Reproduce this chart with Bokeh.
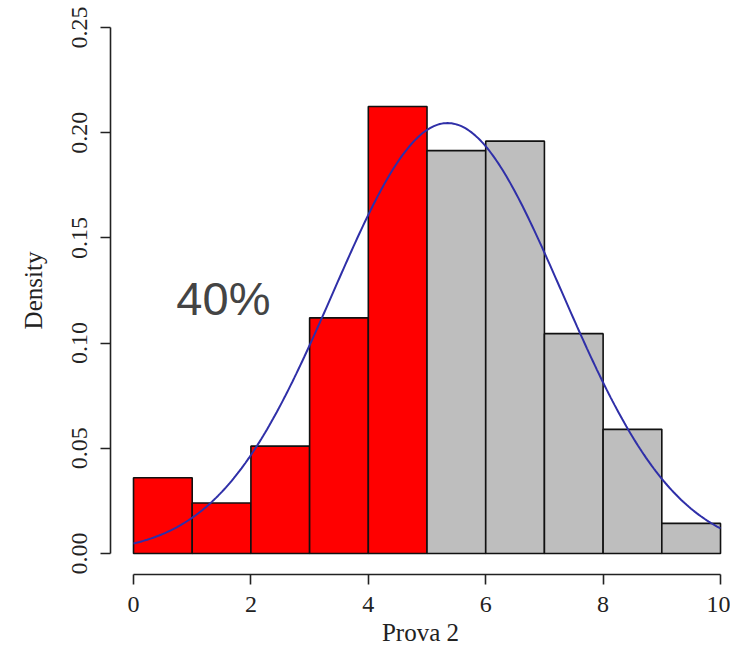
import numpy as np
from bokeh.plotting import figure
from bokeh.models import FixedTicker, Range1d
from bokeh.core.properties import value
from bokeh.embed import file_html
from bokeh.resources import INLINE

# ---- data ----
bin_left = [0, 1, 2, 3, 4, 5, 6, 7, 8, 9]
bin_right = [1, 2, 3, 4, 5, 6, 7, 8, 9, 10]
density = [0.036, 0.024, 0.051, 0.112, 0.2125, 0.1915, 0.196, 0.1045, 0.059, 0.0143]
bar_colors = ["#ff0000"] * 5 + ["#bebebe"] * 5

norm_mean = 5.35
norm_sd = 1.95

x_ticks = [0, 2, 4, 6, 8, 10]
x_tick_labels = ["0", "2", "4", "6", "8", "10"]
y_ticks = [0.0, 0.05, 0.10, 0.15, 0.20, 0.25]
y_tick_labels = ["0.00", "0.05", "0.10", "0.15", "0.20", "0.25"]

annot_x = [0.73]
annot_y = [0.121]
annot_text = ["40%"]

# ---- figure ----
p = figure(width=730, height=652, output_backend="svg", toolbar_location=None,
           x_range=Range1d(-0.392, 10.17), y_range=Range1d(-0.01, 0.26),
           min_border_left=110, min_border_right=0, min_border_top=6,
           min_border_bottom=78)
p.outline_line_color = None
p.grid.visible = False
p.background_fill_color = "white"
p.border_fill_color = "white"

p.quad(left=bin_left, right=bin_right, bottom=0, top=density,
       fill_color=bar_colors, line_color="#111111", line_width=1.6)

xs = np.linspace(min(bin_left), max(bin_right), 300)
ys = np.exp(-0.5 * ((xs - norm_mean) / norm_sd) ** 2) / (norm_sd * np.sqrt(2 * np.pi))
p.line(xs, ys, line_color="#2f2fa8", line_width=2)

p.text(x=annot_x, y=annot_y, text=annot_text, text_font=value("Liberation Sans"),
       text_font_size="47px", text_color="#444444", text_baseline="alphabetic",
       text_align="left")

serif = "Liberation Serif"

xa = p.xaxis[0]
xa.ticker = FixedTicker(ticks=x_ticks)
xa.major_label_overrides = {t: l for t, l in zip(x_ticks, x_tick_labels)}
xa.bounds = (min(x_ticks), max(x_ticks))
xa.axis_label = "Prova 2"

ya = p.yaxis[0]
ya.ticker = FixedTicker(ticks=y_ticks)
ya.major_label_overrides = {t: l for t, l in zip(y_ticks, y_tick_labels)}
ya.bounds = (min(y_ticks), max(y_ticks))
ya.axis_label = "Density"
ya.major_label_orientation = "vertical"

for ax in (xa, ya):
    ax.axis_line_color = "#222222"
    ax.axis_line_width = 1.6
    ax.major_tick_line_color = "#222222"
    ax.major_tick_line_width = 1.6
    ax.major_tick_in = 0
    ax.major_tick_out = 10
    ax.minor_tick_line_color = None
    ax.major_label_text_font = serif
    ax.major_label_text_font_size = "24px"
    ax.major_label_text_color = "#222222"
    ax.axis_label_text_font = serif
    ax.axis_label_text_font_size = "25px"
    ax.axis_label_text_font_style = "normal"
    ax.axis_label_text_color = "#222222"

xa.major_label_standoff = 12
xa.axis_label_standoff = 4
ya.major_label_standoff = 13
ya.axis_label_standoff = 23

open("out.html", "w").write(file_html(p, INLINE))
